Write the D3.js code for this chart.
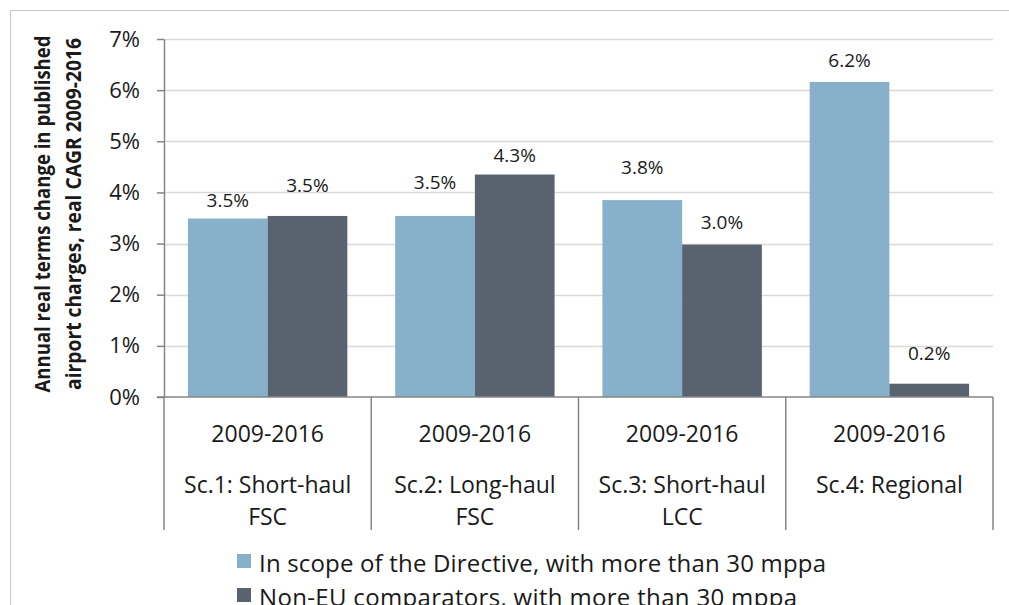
<!DOCTYPE html>
<html>
<head>
<meta charset="utf-8">
<script src="https://cdn.jsdelivr.net/npm/d3@7"></script>
<style>
  body { margin: 0; background: #fff; }
  svg { display: block; font-family: "Open Sans", sans-serif; }
</style>
</head>
<body>
<div id="chart"></div>
<script>
// --- Data ---
const categories = ["Sc.1", "Sc.2", "Sc.3", "Sc.4"];
const periodLabels = ["2009-2016", "2009-2016", "2009-2016", "2009-2016"];
const categoryLabels = [
  ["Sc.1: Short-haul", "FSC"],
  ["Sc.2: Long-haul", "FSC"],
  ["Sc.3: Short-haul", "LCC"],
  ["Sc.4: Regional"]
];
const seriesNames = [
  "In scope of the Directive, with more than 30 mppa",
  "Non-EU comparators, with more than 30 mppa"
];
const inScopeValues = [0.0349, 0.0354, 0.0385, 0.0616];
const nonEuValues = [0.0354, 0.0435, 0.0298, 0.0026];
const inScopeLabels = ["3.5%", "3.5%", "3.8%", "6.2%"];
const nonEuLabels = ["3.5%", "4.3%", "3.0%", "0.2%"];
const yTicks = [0, 0.01, 0.02, 0.03, 0.04, 0.05, 0.06, 0.07];

// label lift above bar top (manually placed in the original)
const labelLift = [[18, 31], [34, 19], [33, 22], [22, 30]];

const colors = ["#87b0cb", "#58636f"];
const width = 1009, height = 605;
const plot = { left: 164, right: 993, top: 39, bottom: 397 };
const catBottom = 530;

const svg = d3.select("#chart").append("svg")
  .attr("width", width)
  .attr("height", height);

// outer chart border (cropped on right/bottom)
svg.append("rect")
  .attr("x", 10.5).attr("y", 10.5)
  .attr("width", 1100).attr("height", 800)
  .attr("fill", "none")
  .attr("stroke", "#c8c8c8");

// scales
const x0 = d3.scaleBand().domain(categories).range([plot.left, plot.right]);
const x1 = d3.scaleBand().domain([0, 1]).range([0, x0.bandwidth()]).paddingOuter(0.3);
const y = d3.scaleLinear().domain([0, 0.07]).range([plot.bottom, plot.top]);

// gridlines
svg.append("g")
  .selectAll("line")
  .data(yTicks.slice(1))
  .join("line")
  .attr("x1", plot.left).attr("x2", plot.right)
  .attr("y1", d => Math.round(y(d)) + 0.5)
  .attr("y2", d => Math.round(y(d)) + 0.5)
  .attr("stroke", "#d9d9d9")
  .attr("stroke-width", 1.5);

// bars
const rows = categories.map((c, i) => ({
  cat: c,
  vals: [inScopeValues[i], nonEuValues[i]],
  labels: [inScopeLabels[i], nonEuLabels[i]],
  lift: labelLift[i]
}));

const groups = svg.append("g")
  .selectAll("g")
  .data(rows)
  .join("g")
  .attr("transform", d => `translate(${x0(d.cat)},0)`);

groups.selectAll("rect")
  .data(d => d.vals.map((v, k) => ({ v, k })))
  .join("rect")
  .attr("x", d => x1(d.k))
  .attr("width", x1.bandwidth())
  .attr("y", d => y(d.v))
  .attr("height", d => y(0) - y(d.v))
  .attr("fill", d => colors[d.k]);

groups.selectAll("text.val")
  .data(d => d.vals.map((v, k) => ({ v, k, label: d.labels[k], lift: d.lift[k] })))
  .join("text")
  .attr("class", "val")
  .attr("x", d => x1(d.k) + x1.bandwidth() / 2)
  .attr("y", d => y(d.v) - d.lift)
  .attr("dy", "0.35em")
  .attr("text-anchor", "middle")
  .attr("font-size", 19)
  .attr("fill", "#1a1a1a")
  .text(d => d.label);

// y axis
const yAxis = svg.append("g")
  .attr("transform", `translate(${plot.left},0)`)
  .call(d3.axisLeft(y).tickValues(yTicks).tickFormat(d3.format(".0%")).tickSize(7).tickSizeOuter(0).tickPadding(17));
yAxis.select(".domain").attr("stroke", "#868686").attr("stroke-width", 1.5);
yAxis.selectAll(".tick line").attr("stroke", "#868686").attr("stroke-width", 1.5);
yAxis.selectAll(".tick text")
  .attr("font-family", "Open Sans")
  .attr("font-size", 22)
  .attr("fill", "#1a1a1a");

// x axis line + category dividers
svg.append("line")
  .attr("x1", plot.left - 7).attr("x2", plot.right)
  .attr("y1", plot.bottom).attr("y2", plot.bottom)
  .attr("stroke", "#868686").attr("stroke-width", 1.5);

const dividers = categories.map(c => x0(c)).concat([plot.right]);
svg.append("g")
  .selectAll("line")
  .data(dividers)
  .join("line")
  .attr("x1", d => d).attr("x2", d => d)
  .attr("y1", plot.bottom).attr("y2", catBottom)
  .attr("stroke", "#868686").attr("stroke-width", 1.5);

// category labels
const catG = svg.append("g")
  .selectAll("g")
  .data(categories)
  .join("g")
  .attr("transform", d => `translate(${x0(d) + x0.bandwidth() / 2},0)`);

catG.append("text")
  .attr("y", 442)
  .attr("text-anchor", "middle")
  .attr("font-size", 23)
  .attr("fill", "#1a1a1a")
  .text((d, i) => periodLabels[i]);

catG.each(function (d, i) {
  d3.select(this).selectAll("text.cl")
    .data(categoryLabels[i])
    .join("text")
    .attr("class", "cl")
    .attr("y", (t, j) => 493 + j * 32)
    .attr("text-anchor", "middle")
    .attr("font-size", 23)
    .attr("fill", "#1a1a1a")
    .text(t => t);
});

// y axis title
const yTitle = ["Annual real terms change in published", "airport charges, real CAGR 2009-2016"];
svg.append("g")
  .selectAll("text")
  .data(yTitle)
  .join("text")
  .attr("transform", (d, i) => `translate(${[50, 81][i]},214) rotate(-90)`)
  .attr("text-anchor", "middle")
  .attr("font-size", 21.5)
  .attr("font-weight", "bold")
  .attr("fill", "#1a1a1a")
  .attr("textLength", (d, i) => [357, 352][i])
  .attr("lengthAdjust", "spacingAndGlyphs")
  .text(d => d);

// legend
const legend = svg.append("g")
  .selectAll("g")
  .data(seriesNames)
  .join("g")
  .attr("transform", (d, i) => `translate(237,${554 + i * 34})`);
legend.append("rect")
  .attr("width", 14).attr("height", 14)
  .attr("fill", (d, i) => colors[i]);
legend.append("text")
  .attr("x", 22)
  .attr("y", 18)
  .attr("font-size", 24)
  .attr("fill", "#1a1a1a")
  .attr("textLength", (d, i) => [567, 538][i])
  .attr("lengthAdjust", "spacing")
  .text(d => d);
</script>
</body>
</html>
